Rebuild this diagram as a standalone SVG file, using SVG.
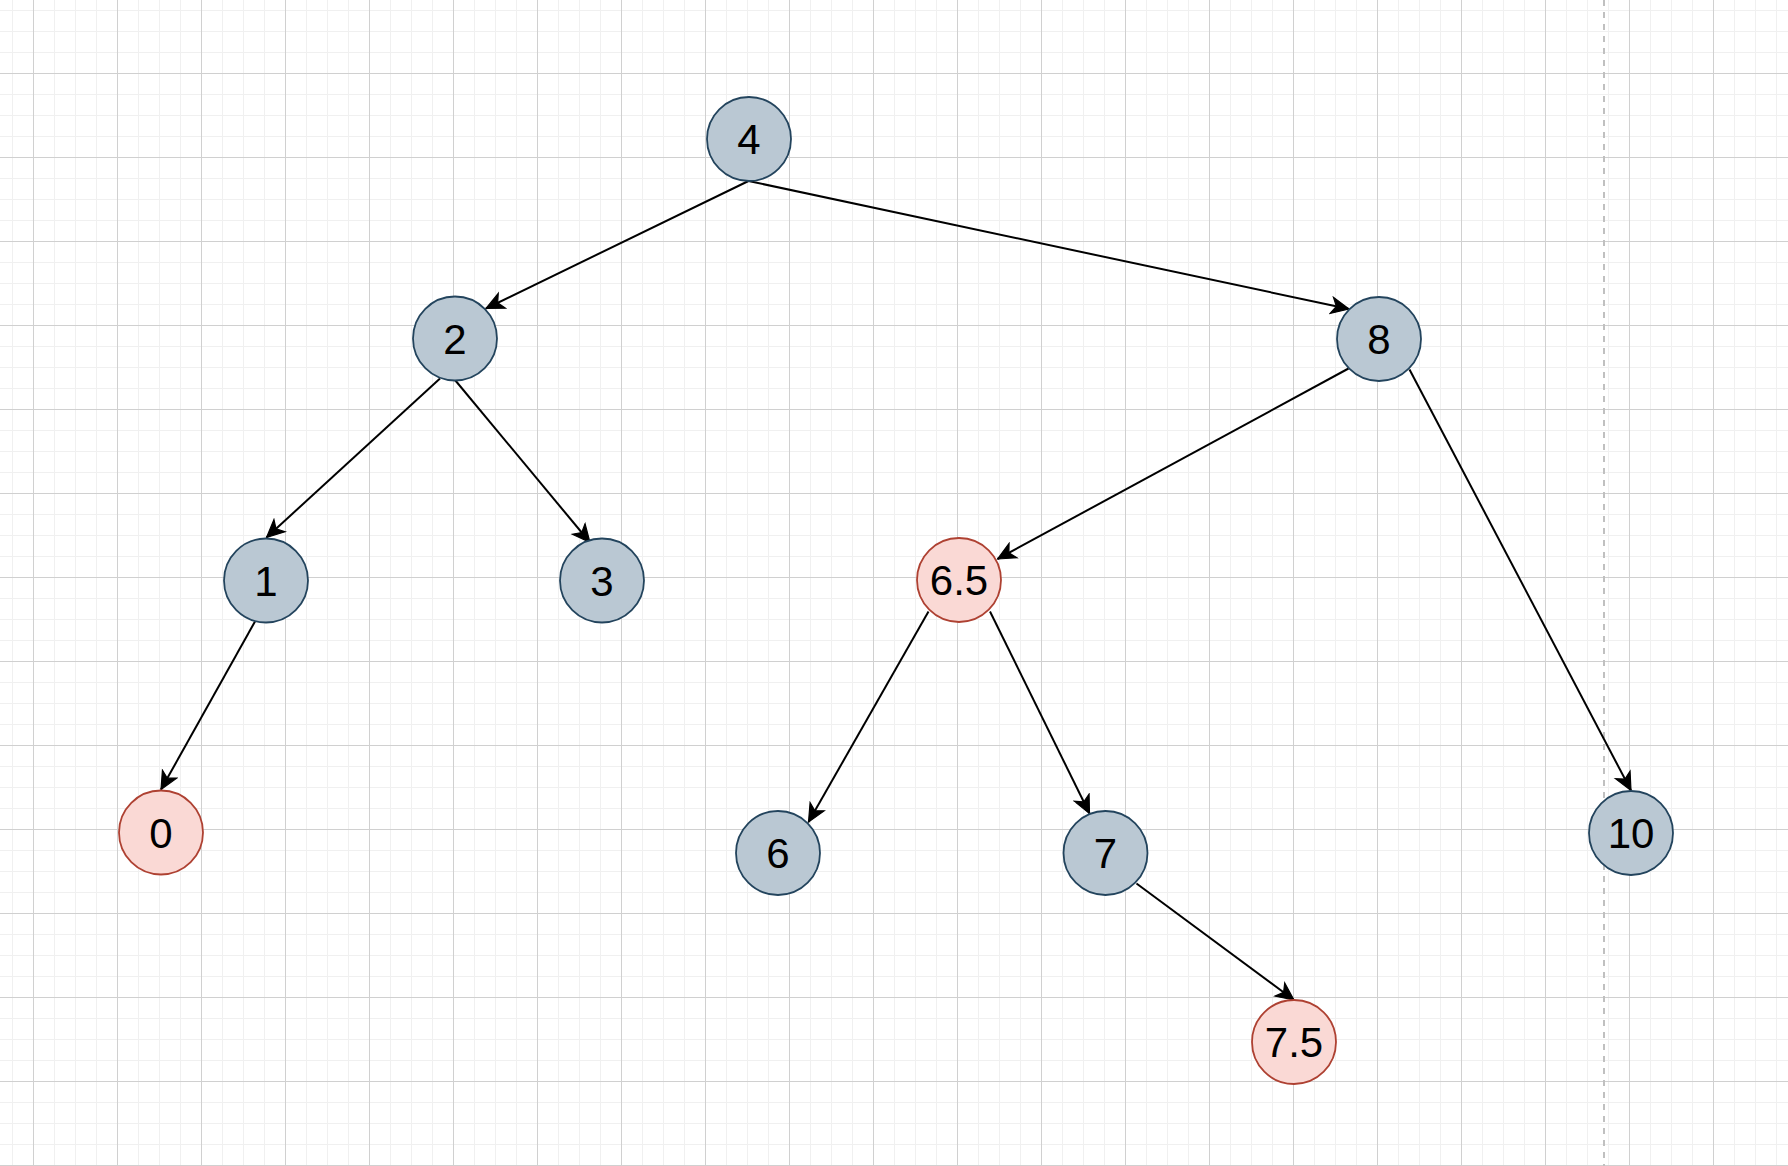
<svg xmlns="http://www.w3.org/2000/svg" width="1788" height="1166" viewBox="0 0 1788 1166">
  <style>
    .node-blue { fill: #bac8d3; stroke: #23445d; stroke-width: 1.8; }
    .node-red { fill: #fad9d5; stroke: #ae4132; stroke-width: 1.8; }
    .label { font-family: "Liberation Sans", Arial, Helvetica, sans-serif; font-size: 42px; fill: #000000; text-anchor: middle; }
    .edge { fill: none; stroke: #000000; stroke-width: 2; marker-end: url(#arrow); }
  </style>
  <defs>
    <!-- 84px major cells split into 21px minor cells -->
    <pattern id="grid" patternUnits="userSpaceOnUse" x="33" y="73" width="84" height="84">
      <path d="M21.5 0V84M42.5 0V84M63.5 0V84M0 21.5H84M0 42.5H84M0 63.5H84" stroke="#f0f0f0" stroke-width="1" fill="none"/>
      <path d="M0.5 0V84M0 0.5H84" stroke="#d0d0d0" stroke-width="1" fill="none"/>
    </pattern>
    <marker id="arrow" markerUnits="userSpaceOnUse" markerWidth="20" markerHeight="20" refX="0" refY="0" viewBox="-16 -8 17 16" orient="auto">
      <path d="M0 0L-15 -7L-11 0L-15 7Z" fill="#000000" stroke="#000000" stroke-width="1" stroke-linejoin="miter"/>
    </marker>
  </defs>

  <!-- background and grid -->
  <rect x="0" y="0" width="1788" height="1166" fill="#ffffff"/>
  <rect x="0" y="0" width="1788" height="1166" fill="url(#grid)"/>
  <line x1="1604" y1="0" x2="1604" y2="1166" stroke="#c0c0c0" stroke-width="2" stroke-dasharray="6 6"/>

  <!-- connectors -->
  <g id="edges">
    <line class="edge" x1="748.5" y1="181" x2="486" y2="308.5"/>
    <line class="edge" x1="748.5" y1="181" x2="1349" y2="309"/>
    <line class="edge" x1="440" y1="378.5" x2="266.5" y2="537.5"/>
    <line class="edge" x1="455" y1="380" x2="590" y2="542.5"/>
    <line class="edge" x1="1348.5" y1="368.5" x2="997.5" y2="559"/>
    <line class="edge" x1="1409.5" y1="369.5" x2="1631" y2="790.5"/>
    <line class="edge" x1="255" y1="621.5" x2="161" y2="789.5"/>
    <line class="edge" x1="928.5" y1="611.5" x2="808.5" y2="822"/>
    <line class="edge" x1="990" y1="611.5" x2="1089.5" y2="813.5"/>
    <line class="edge" x1="1136.5" y1="883.5" x2="1294" y2="1000"/>
  </g>

  <!-- tree nodes -->
  <g id="node-4">
    <circle class="node-blue" cx="749" cy="139" r="42"/>
    <text class="label" x="749" y="154">4</text>
  </g>
  <g id="node-2">
    <circle class="node-blue" cx="455" cy="338.5" r="42"/>
    <text class="label" x="455" y="353.5">2</text>
  </g>
  <g id="node-8">
    <circle class="node-blue" cx="1379" cy="339" r="42"/>
    <text class="label" x="1379" y="354">8</text>
  </g>
  <g id="node-1">
    <circle class="node-blue" cx="266" cy="580.5" r="42"/>
    <text class="label" x="266" y="595.5">1</text>
  </g>
  <g id="node-3">
    <circle class="node-blue" cx="602" cy="580.5" r="42"/>
    <text class="label" x="602" y="595.5">3</text>
  </g>
  <g id="node-6-5">
    <circle class="node-red" cx="959" cy="580" r="42"/>
    <text class="label" x="959" y="595">6.5</text>
  </g>
  <g id="node-0">
    <circle class="node-red" cx="161" cy="832.5" r="42"/>
    <text class="label" x="161" y="847.5">0</text>
  </g>
  <g id="node-6">
    <circle class="node-blue" cx="778" cy="853" r="42"/>
    <text class="label" x="778" y="868">6</text>
  </g>
  <g id="node-7">
    <circle class="node-blue" cx="1105.5" cy="853" r="42"/>
    <text class="label" x="1105.5" y="868">7</text>
  </g>
  <g id="node-10">
    <circle class="node-blue" cx="1631" cy="833" r="42"/>
    <text class="label" x="1631" y="848">10</text>
  </g>
  <g id="node-7-5">
    <circle class="node-red" cx="1294" cy="1042" r="42"/>
    <text class="label" x="1294" y="1057">7.5</text>
  </g>
</svg>
